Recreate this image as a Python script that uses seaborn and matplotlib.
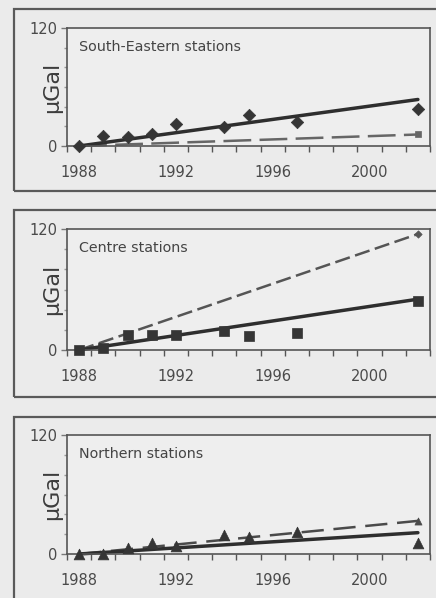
import numpy as np
import matplotlib
matplotlib.use("Agg")
import matplotlib.pyplot as plt
from matplotlib.patches import Rectangle
from matplotlib.ticker import FixedLocator
import seaborn as sns

# Survey epochs and gravity changes (µGal) for each station group
years = [1988, 1989, 1990, 1991, 1992, 1994, 1995, 1997, 2002]
south_east = [0, 10, 8.7, 11.7, 22, 19.4, 31.8, 24.5, 37.9]
centre = [0, 2, 14.9, 15.2, 14.9, 18.9, 14.3, 16.6, 48.7]
northern = [0, 0, 6, 11, 8, 19, 17, 22, 11.5]

# Trend lines from 1988 to 2002: fitted (solid) and modelled (dashed)
trend_years = [1988, 2002]
south_east_fit = [0, 47.3]
south_east_model = [0, 11.7]
centre_fit = [0, 50.4]
centre_model = [0, 115]
northern_fit = [0, 21.5]
northern_model = [0, 33.4]

panel_titles = ["South-Eastern stations", "Centre stations", "Northern stations"]
year_ticks = [1988, 1992, 1996, 2000]
value_ticks = [0, 120]
value_minor = [20, 40, 60, 80, 100]

sns.set_theme(style="white")
plt.rcParams["font.family"] = ["DejaVu Sans"]
plt.rcParams["lines.scale_dashes"] = False

W, H = 436, 598
fig = plt.figure(figsize=(W / 100, H / 100), dpi=100, facecolor="#ebebeb")

INK = "#353535"
FRAME = "#555555"
TEXT = "#4a4a4a"


def fx(x):
    return x / W


def fy(y):
    return 1 - y / H


# outer frames around each panel (pixel coords: left, top, right, bottom)
for l, t, r, b in [(14, 9, 450, 191), (14, 210, 450, 397), (14, 417, 450, 620)]:
    fig.patches.append(Rectangle((fx(l), fy(b)), fx(r - l), (b - t) / H,
                                 transform=fig.transFigure, fill=False,
                                 edgecolor="#5a5a5a", linewidth=1.6))

panels = [
    dict(top=28, bottom=146, title=panel_titles[0], values=south_east, marker="D", s=40,
         fit=south_east_fit, model=south_east_model, end_marker="s", end_s=16,
         dash=(20, 6), dash_color="#666666"),
    dict(top=229, bottom=350, title=panel_titles[1], values=centre, marker="s", s=55,
         fit=centre_fit, model=centre_model, end_marker="D", end_s=14,
         dash=(11, 4), dash_color="#555555"),
    dict(top=435, bottom=554, title=panel_titles[2], values=northern, marker="^", s=60,
         fit=northern_fit, model=northern_model, end_marker="^", end_s=26,
         dash=(16, 7), dash_color="#4a4a4a"),
]

left_px, right_px = 67, 430

for p in panels:
    ax = fig.add_axes([fx(left_px), fy(p["bottom"]), fx(right_px - left_px),
                       (p["bottom"] - p["top"]) / H])
    ax.set_facecolor("#eeeeee")

    sns.lineplot(x=trend_years, y=p["model"], ax=ax, color=p["dash_color"],
                 linewidth=1.8, linestyle=(0, p["dash"]), clip_on=False)
    sns.lineplot(x=trend_years, y=p["fit"], ax=ax, color="#2e2e2e",
                 linewidth=2.5, clip_on=False)
    sns.scatterplot(x=trend_years[-1:], y=p["model"][-1:], ax=ax, marker=p["end_marker"],
                    s=p["end_s"], color=p["dash_color"], edgecolor=p["dash_color"],
                    linewidth=0.5, clip_on=False, zorder=4)
    sns.scatterplot(x=years, y=p["values"], ax=ax, marker=p["marker"], s=p["s"],
                    color=INK, edgecolor=INK, linewidth=0.5, clip_on=False, zorder=5)

    ax.set_xlim(1987.5, 2002.5)
    ax.set_ylim(0, 120)
    ax.set_xlabel("")
    ax.set_ylabel("")

    ax.set_xticks(year_ticks)
    ax.set_xticklabels([str(y) for y in year_ticks])
    ax.xaxis.set_minor_locator(FixedLocator(np.arange(1987.5, 2002.6, 1.0)))
    ax.tick_params(axis="x", which="major", length=0, pad=14, labelsize=10.5,
                   labelcolor=TEXT)
    ax.tick_params(axis="x", which="minor", bottom=True, length=4.5, width=1.0,
                   color=FRAME, direction="out")

    ax.set_yticks(value_ticks)
    ax.set_yticklabels([str(v) for v in value_ticks])
    ax.yaxis.set_minor_locator(FixedLocator(value_minor))
    ax.tick_params(axis="y", which="major", left=True, length=4, width=1.0,
                   color="#777777", pad=3, labelsize=10.5, labelcolor=TEXT)
    ax.tick_params(axis="y", which="minor", left=True, length=2, width=1.0,
                   color="#999999")

    for side in ["left", "right", "top", "bottom"]:
        ax.spines[side].set_visible(True)
        ax.spines[side].set_color(FRAME)
        ax.spines[side].set_linewidth(1.2)

    ax.text(0.033, 0.84, p["title"], transform=ax.transAxes, ha="left", va="center",
            fontsize=10.3, color="#444444")
    ax.text(-0.041, 0.5, "µGal", transform=ax.transAxes, rotation=90,
            ha="center", va="center", fontsize=16, color="#3c3c3c")

fig.savefig("out.png", dpi=100, facecolor=fig.get_facecolor())
